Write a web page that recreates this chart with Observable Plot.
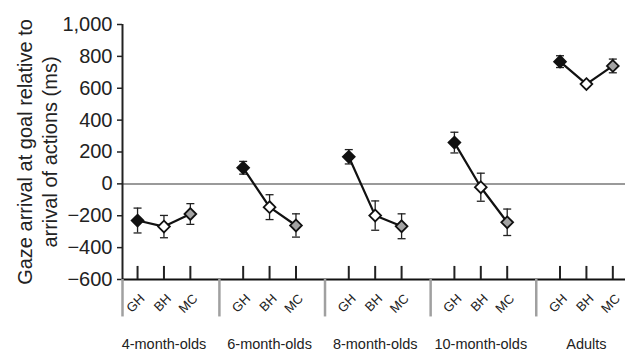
<!DOCTYPE html>
<html>
<head>
<meta charset="utf-8">
<script src="https://cdn.jsdelivr.net/npm/d3@7"></script>
<script src="https://cdn.jsdelivr.net/npm/@observablehq/plot@0.6"></script>
<style>
  html, body { margin: 0; padding: 0; background: #fff; }
  #chart { width: 625px; height: 351px; overflow: hidden; }
</style>
</head>
<body>
<div id="chart"></div>
<script>
// ---- Data ----
const groups = ["4-month-olds", "6-month-olds", "8-month-olds", "10-month-olds", "Adults"];
const conditions = ["GH", "BH", "MC"];
const ghMean = [-230, 101, 170, 259, 767];
const bhMean = [-268, -146, -199, -21, 626];
const mcMean = [-189, -261, -266, -241, 740];
const ghErr = [78, 40, 45, 65, 37];
const bhErr = [70, 78, 92, 88, 15];
const mcErr = [65, 73, 78, 83, 43];
const yTicks = [-600, -400, -200, 0, 200, 400, 600, 800, 1000];
const yLabel = "Gaze arrival at goal relative to\narrival of actions (ms)";

// ---- Build table ----
const means = {GH: ghMean, BH: bhMean, MC: mcMean};
const errs = {GH: ghErr, BH: bhErr, MC: mcErr};
const step = conditions.length + 1;
const rows = groups.flatMap((g, gi) => conditions.map((c, ci) => ({
  group: g, cond: c, x: gi * step + ci,
  mean: means[c][gi], lo: means[c][gi] - errs[c][gi], hi: means[c][gi] + errs[c][gi]
})));
const caps = rows.flatMap(d => [{x: d.x, y: d.lo}, {x: d.x, y: d.hi}]);
const xMin = -0.57, xMax = 18.48;
const separators = [xMin, ...groups.slice(1).map((_, i) => (i + 1) * step - 0.9)];
const fillOf = {GH: "#111", BH: "#fff", MC: "#a3a3a3"};

const capSymbol = {
  draw(context, size) {
    const w = Math.sqrt(size / Math.PI);
    context.moveTo(-w, 0);
    context.lineTo(w, 0);
  }
};

const chart = Plot.plot({
  width: 625,
  height: 351,
  marginLeft: 122,
  marginRight: 0,
  marginTop: 24,
  marginBottom: 72,
  style: {fontFamily: "'Liberation Sans', Arial, Helvetica, sans-serif", fontSize: "20px", color: "#222", background: "#fff"},
  x: {domain: [xMin, xMax], axis: null},
  y: {domain: [-600, 1000], axis: null},
  marks: [
    // zero reference line
    Plot.ruleY([0], {stroke: "#9a9a9a", strokeWidth: 2}),
    // y axis
    Plot.axisY({ticks: yTicks, tickFormat: d3.format(","), tickSize: 5, tickPadding: 5, label: null, fontSize: 20, stroke: "#222", strokeWidth: 1.5}),
    Plot.ruleX([xMin], {stroke: "#222", strokeWidth: 2}),
    // x axis line
    Plot.ruleY([-600], {stroke: "#111", strokeWidth: 2}),
    // group separators below the axis
    Plot.ruleX(separators, {y1: -600, y2: -835, stroke: "#a0a0a0", strokeWidth: 2.5}),
    // inward ticks at each condition
    Plot.ruleX(rows, {x: "x", y1: -600, y2: -518, stroke: "#222", strokeWidth: 2}),
    // rotated condition labels
    Plot.text(rows, {x: "x", y: () => -600, text: "cond", rotate: -45, textAnchor: "end", dx: 5, dy: 17, fontSize: 13, fill: "#222"}),
    // group labels
    Plot.text(groups, {x: (d, i) => i * step + 1, y: () => -600, text: d => d, dy: 65, fontSize: 14.5, fill: "#222"}),
    // y axis title (two lines)
    Plot.text([yLabel], {frameAnchor: "left", rotate: -90, dx: -86, lineHeight: 1.28, fontSize: 20, fill: "#222", textAnchor: "middle"}),
    // error bars
    Plot.ruleX(rows, {x: "x", y1: "lo", y2: "hi", stroke: "#222", strokeWidth: 1.3}),
    Plot.dot(caps, {x: "x", y: "y", symbol: capSymbol, r: 4, fill: "none", stroke: "#222", strokeWidth: 1.3}),
    // connecting lines within each age group
    Plot.line(rows, {x: "x", y: "mean", z: "group", stroke: "#111", strokeWidth: 2.2}),
    // diamond markers
    ...conditions.map(c => Plot.dot(rows.filter(d => d.cond === c), {
      x: "x", y: "mean", symbol: "diamond2", r: 5.3, fill: fillOf[c], stroke: "#111", strokeWidth: 1.8
    }))
  ]
});
document.getElementById("chart").appendChild(chart);
</script>
</body>
</html>
